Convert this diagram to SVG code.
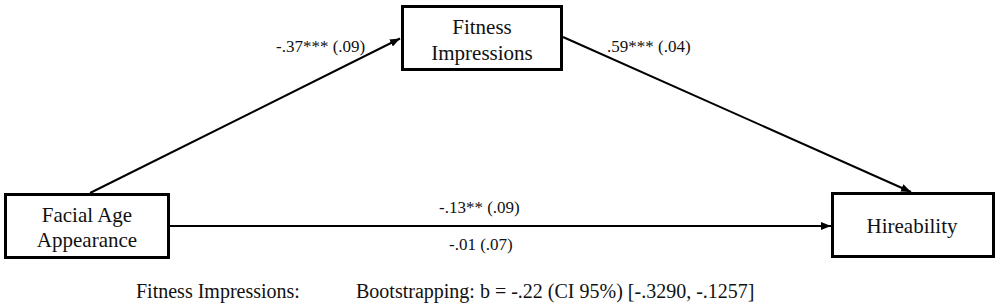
<svg xmlns="http://www.w3.org/2000/svg" width="1000" height="308" viewBox="0 0 1000 308">
<style>
.box{fill:#fff;stroke:#000;stroke-width:3}
.t{font-family:"Liberation Serif","Times New Roman",serif;fill:#111}
.n{font-size:21px;text-anchor:middle}
.l{font-size:17px}
.b{font-size:20px}
.c{stroke:#000;stroke-width:2;fill:none}
</style>
<defs>
<marker id="ah" markerUnits="userSpaceOnUse" markerWidth="11" markerHeight="8" refX="10" refY="4" orient="auto">
<path d="M0,0 L10,4 L0,8 Z" fill="#000"/>
</marker>
</defs>
<rect width="1000" height="308" fill="#fff"/>
<g id="connectors">
<line class="c" x1="90" y1="193" x2="400" y2="38.5" marker-end="url(#ah)"/>
<line class="c" x1="563" y1="37" x2="911" y2="192" marker-end="url(#ah)"/>
<line class="c" x1="170" y1="226" x2="831" y2="226" marker-end="url(#ah)"/>
</g>
<g id="facial">
<rect class="box" x="5.5" y="194.5" width="163" height="63"/>
<text class="t n" x="87" y="222">Facial Age</text>
<text class="t n" x="87" y="247">Appearance</text>
</g>
<g id="fitness">
<rect class="box" x="402.5" y="6.5" width="159" height="63"/>
<text class="t n" x="482" y="34">Fitness</text>
<text class="t n" x="482" y="60">Impressions</text>
</g>
<g id="hireability">
<rect class="box" x="832.5" y="193.5" width="161" height="63"/>
<text class="t n" x="912" y="233">Hireability</text>
</g>
<g id="labels">
<text class="t l" x="276" y="52">-.37*** (.09)</text>
<text class="t l" x="607" y="52">.59*** (.04)</text>
<text class="t l" x="439" y="213">-.13** (.09)</text>
<text class="t l" x="449" y="250">-.01 (.07)</text>
<text class="t b" x="136" y="298">Fitness Impressions:</text>
<text class="t b" x="356" y="298">Bootstrapping: b = -.22 (CI 95%) [-.3290, -.1257]</text>
</g>
</svg>
